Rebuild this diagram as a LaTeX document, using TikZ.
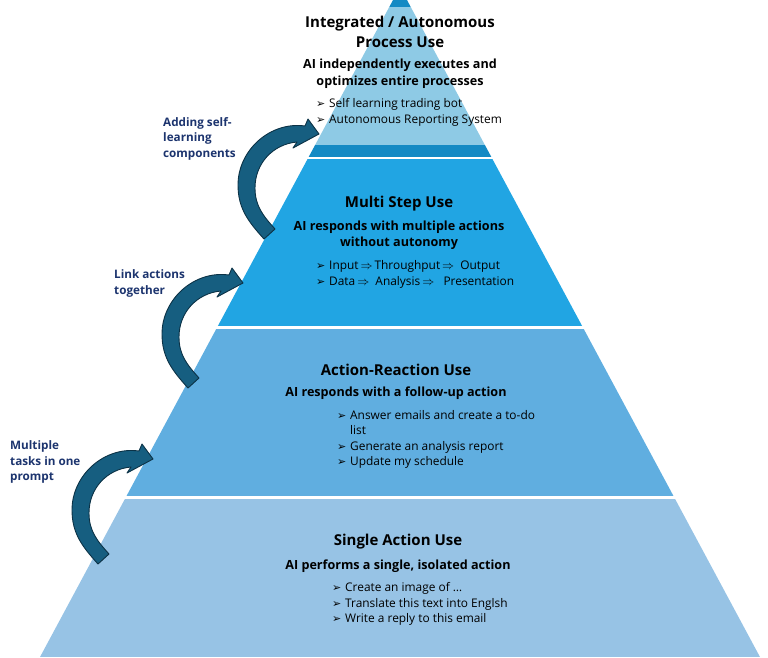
\documentclass[tikz,border=0pt]{standalone}
\usepackage{fontspec}
\setmainfont{Open Sans}
\newfontfamily\symfont{DejaVu Sans}
\usetikzlibrary{positioning}

\definecolor{tipblue}{RGB}{20,138,196}
\definecolor{autoblue}{RGB}{142,202,229}
\definecolor{multiblue}{RGB}{33,165,227}
\definecolor{actionblue}{RGB}{96,174,224}
\definecolor{singleblue}{RGB}{151,195,229}
\definecolor{arrowblue}{RGB}{22,94,128}
\definecolor{arrowline}{RGB}{12,50,70}
\definecolor{labelblue}{RGB}{28,52,110}

\tikzstyle{tiertitle} = [font=\bfseries\fontsize{15}{20}\selectfont, align=center, inner sep=0pt]
\tikzstyle{tiersub} = [font=\bfseries\fontsize{12.6}{16.5}\selectfont, align=center, inner sep=0pt]
\tikzstyle{tierlist} = [font=\fontsize{11.9}{15.5}\selectfont, align=left, anchor=west, inner sep=0pt]
\tikzstyle{sidelabel} = [font=\bfseries\fontsize{11.7}{15.5}\selectfont, text=labelblue, align=left, anchor=west, inner sep=0pt]
\tikzstyle{looparrow} = [fill=arrowblue, draw=arrowline, line width=0.9pt, line join=round]

\newcommand{\bulletmark}{\makebox[13pt][l]{\symfont\fontsize{11}{11}\selectfont ➢}}
\newcommand{\loopArrow}[1]{%
  \path[looparrow, shift={#1}] (-55,-105)
    to[out=132,in=-90] (-81,-51)
    to[out=90,in=172] (-14,8)
    -- (-11,15) -- (0,0) -- (-26,-14) -- (-22,-8)
    to[out=185,in=90] (-64,-54)
    to[out=-90,in=132] (-44,-95) -- cycle;}

\begin{document}
\begin{tikzpicture}[x=1pt,y=1pt]
\useasboundingbox (0,0) rectangle (768,-657);

% pyramid bands
\begin{scope}
\clip (400,13) -- (40,-657) -- (760,-657) -- cycle;
\fill[tipblue] (0,20) rectangle (768,-7);
\fill[autoblue] (0,-7) rectangle (768,-145);
\fill[tipblue] (0,-145) rectangle (768,-157);
\fill[multiblue] (0,-159) rectangle (768,-326);
\fill[actionblue] (0,-329) rectangle (768,-496);
\fill[singleblue] (0,-499) rectangle (768,-657);
\end{scope}

% tier texts
\node[tiertitle] (autoTitle) at (400,-32) {Integrated / Autonomous\\Process Use};
\node[tiersub] (autoSub) at (400,-73.5) {AI independently executes and\\optimizes entire processes};
\node[tierlist] (autoList) at (316,-112.5) {\bulletmark Self learning trading bot\\
  \bulletmark Autonomous Reporting System};

\node[tiertitle] (multiTitle) at (399,-204) {Multi Step Use};
\node[tiersub] (multiSub) at (399,-235) {AI responds with multiple actions\\without autonomy};
\node[tierlist] (multiList) at (316,-274.5) {\bulletmark Input\,$\Rightarrow$\,Throughput\,$\Rightarrow$\ \ Output\\
  \bulletmark Data\,$\Rightarrow$\ \ Analysis\,$\Rightarrow$\ \ \ Presentation};

\node[tiertitle] (actionTitle) at (396,-370) {Action-Reaction Use};
\node[tiersub] (actionSub) at (396,-393) {AI responds with a follow-up action};
\node[tierlist] (actionList) at (337,-439.5) {\bulletmark Answer emails and create a to-do\\
  \hspace*{13pt}list\\
  \bulletmark Generate an analysis report\\
  \bulletmark Update my schedule};

\node[tiertitle] (singleTitle) at (398,-542) {Single Action Use};
\node[tiersub] (singleSub) at (398,-566) {AI performs a single, isolated action};
\node[tierlist] (singleList) at (332,-604) {\bulletmark Create an image of \dots\\
  \bulletmark Translate this text into Englsh\\
  \bulletmark Write a reply to this email};

% curved step arrows
\loopArrow{(319,-134)}
\loopArrow{(243,-283)}
\loopArrow{(153,-459)}

% arrow labels
\node[sidelabel] (selfLabel) at (163,-138.5) {Adding self-\\learning\\components};
\node[sidelabel] (linkLabel) at (114,-283.5) {Link actions\\together};
\node[sidelabel] (tasksLabel) at (10,-462) {Multiple\\tasks in one\\prompt};
\end{tikzpicture}
\end{document}
